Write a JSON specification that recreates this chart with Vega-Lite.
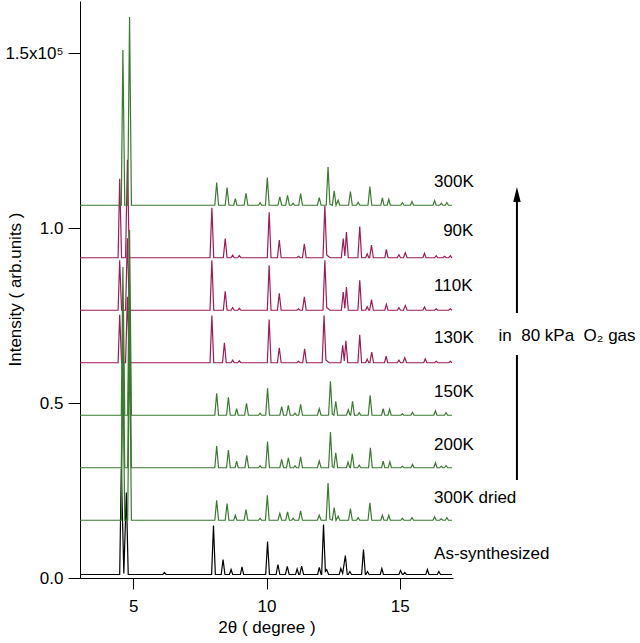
{
  "$schema": "https://vega.github.io/schema/vega-lite/v6.json",
  "width": 373,
  "height": 577,
  "autosize": "none",
  "padding": {"left": 80, "top": 1, "right": 187, "bottom": 65},
  "background": "white",
  "config": {
    "view": {"stroke": null},
    "font": "Liberation Sans",
    "axis": {
      "domainColor": "#000", "tickColor": "#000", "labelColor": "#000", "titleColor": "#000",
      "labelFont": "Liberation Sans", "titleFont": "Liberation Sans",
      "labelFontSize": 17, "titleFontSize": 17, "titleFontWeight": "normal",
      "grid": false, "domainWidth": 1, "tickWidth": 1
    }
  },
  "datasets": {
    "magenta": [
      {"s":"130K","x":3,"y":61500},{"s":"130K","x":4.43,"y":61500},{"s":"130K","x":4.49,"y":75230},{"s":"130K","x":4.56,"y":61500},{"s":"130K","x":4.71,"y":61500},{"s":"130K","x":4.78,"y":80380},{"s":"130K","x":4.85,"y":61500},{"s":"130K","x":7.88,"y":61500},{"s":"130K","x":7.95,"y":75030},{"s":"130K","x":8.02,"y":61500},{"s":"130K","x":8.35,"y":61500},{"s":"130K","x":8.42,"y":67220},{"s":"130K","x":8.49,"y":61500},{"s":"130K","x":8.67,"y":61500},{"s":"130K","x":8.73,"y":62220},{"s":"130K","x":8.79,"y":61500},{"s":"130K","x":8.92,"y":61500},{"s":"130K","x":8.98,"y":62070},{"s":"130K","x":9.04,"y":61500},{"s":"130K","x":10.03,"y":61500},{"s":"130K","x":10.1,"y":73880},{"s":"130K","x":10.17,"y":61500},{"s":"130K","x":10.41,"y":61500},{"s":"130K","x":10.48,"y":65790},{"s":"130K","x":10.55,"y":61500},{"s":"130K","x":11.14,"y":61500},{"s":"130K","x":11.2,"y":61930},{"s":"130K","x":11.26,"y":61500},{"s":"130K","x":11.36,"y":61500},{"s":"130K","x":11.43,"y":65500},{"s":"130K","x":11.5,"y":61500},{"s":"130K","x":12.09,"y":61500},{"s":"130K","x":12.16,"y":75030},{"s":"130K","x":12.23,"y":62300},{"s":"130K","x":12.35,"y":61500},{"s":"130K","x":12.79,"y":61500},{"s":"130K","x":12.86,"y":66450},{"s":"130K","x":12.92,"y":62000},{"s":"130K","x":12.98,"y":67790},{"s":"130K","x":13.05,"y":61500},{"s":"130K","x":13.43,"y":61500},{"s":"130K","x":13.5,"y":69510},{"s":"130K","x":13.57,"y":61500},{"s":"130K","x":13.72,"y":61500},{"s":"130K","x":13.78,"y":62500},{"s":"130K","x":13.84,"y":61500},{"s":"130K","x":13.88,"y":61500},{"s":"130K","x":13.95,"y":64560},{"s":"130K","x":14.02,"y":61500},{"s":"130K","x":14.43,"y":61500},{"s":"130K","x":14.49,"y":63360},{"s":"130K","x":14.55,"y":61500},{"s":"130K","x":14.91,"y":61500},{"s":"130K","x":14.97,"y":62220},{"s":"130K","x":15.03,"y":61500},{"s":"130K","x":15.12,"y":61500},{"s":"130K","x":15.19,"y":62930},{"s":"130K","x":15.26,"y":61500},{"s":"130K","x":15.9,"y":61500},{"s":"130K","x":15.96,"y":62640},{"s":"130K","x":16.02,"y":61500},{"s":"130K","x":16.31,"y":61500},{"s":"130K","x":16.37,"y":61930},{"s":"130K","x":16.43,"y":61500},{"s":"130K","x":16.84,"y":61500},{"s":"130K","x":16.9,"y":61930},{"s":"130K","x":16.96,"y":61500},

      {"s":"110K","x":3,"y":76500},{"s":"110K","x":4.43,"y":76500},{"s":"110K","x":4.49,"y":90800},{"s":"110K","x":4.56,"y":76500},{"s":"110K","x":4.71,"y":76500},{"s":"110K","x":4.78,"y":97090},{"s":"110K","x":4.85,"y":76500},{"s":"110K","x":7.88,"y":76500},{"s":"110K","x":7.95,"y":90800},{"s":"110K","x":8.02,"y":76500},{"s":"110K","x":8.38,"y":76500},{"s":"110K","x":8.45,"y":81930},{"s":"110K","x":8.52,"y":76500},{"s":"110K","x":8.67,"y":76500},{"s":"110K","x":8.73,"y":77220},{"s":"110K","x":8.79,"y":76500},{"s":"110K","x":8.92,"y":76500},{"s":"110K","x":8.98,"y":77070},{"s":"110K","x":9.04,"y":76500},{"s":"110K","x":10.03,"y":76500},{"s":"110K","x":10.1,"y":89370},{"s":"110K","x":10.17,"y":76500},{"s":"110K","x":10.41,"y":76500},{"s":"110K","x":10.48,"y":81360},{"s":"110K","x":10.55,"y":76500},{"s":"110K","x":11.14,"y":76500},{"s":"110K","x":11.2,"y":76930},{"s":"110K","x":11.26,"y":76500},{"s":"110K","x":11.35,"y":76500},{"s":"110K","x":11.42,"y":80300},{"s":"110K","x":11.49,"y":76500},{"s":"110K","x":12.12,"y":76500},{"s":"110K","x":12.19,"y":90800},{"s":"110K","x":12.26,"y":77300},{"s":"110K","x":12.38,"y":76500},{"s":"110K","x":12.81,"y":76500},{"s":"110K","x":12.88,"y":81730},{"s":"110K","x":12.94,"y":77000},{"s":"110K","x":13.0,"y":83160},{"s":"110K","x":13.07,"y":76500},{"s":"110K","x":13.43,"y":76500},{"s":"110K","x":13.5,"y":85080},{"s":"110K","x":13.57,"y":76500},{"s":"110K","x":13.72,"y":76500},{"s":"110K","x":13.78,"y":77500},{"s":"110K","x":13.84,"y":76500},{"s":"110K","x":13.87,"y":76500},{"s":"110K","x":13.94,"y":79560},{"s":"110K","x":14.01,"y":76500},{"s":"110K","x":14.44,"y":76500},{"s":"110K","x":14.5,"y":78220},{"s":"110K","x":14.56,"y":76500},{"s":"110K","x":14.91,"y":76500},{"s":"110K","x":14.97,"y":77220},{"s":"110K","x":15.03,"y":76500},{"s":"110K","x":15.14,"y":76500},{"s":"110K","x":15.21,"y":77840},{"s":"110K","x":15.28,"y":76500},{"s":"110K","x":15.87,"y":76500},{"s":"110K","x":15.93,"y":77440},{"s":"110K","x":15.99,"y":76500},{"s":"110K","x":16.31,"y":76500},{"s":"110K","x":16.37,"y":76930},{"s":"110K","x":16.43,"y":76500},{"s":"110K","x":16.84,"y":76500},{"s":"110K","x":16.9,"y":76930},{"s":"110K","x":16.96,"y":76500},

      {"s":"90K","x":3,"y":91500},{"s":"90K","x":4.43,"y":91500},{"s":"90K","x":4.49,"y":114090},{"s":"90K","x":4.56,"y":91500},{"s":"90K","x":4.71,"y":91500},{"s":"90K","x":4.78,"y":119530},{"s":"90K","x":4.85,"y":91500},{"s":"90K","x":7.88,"y":91500},{"s":"90K","x":7.95,"y":105800},{"s":"90K","x":8.02,"y":91500},{"s":"90K","x":8.38,"y":91500},{"s":"90K","x":8.45,"y":97020},{"s":"90K","x":8.52,"y":91500},{"s":"90K","x":8.67,"y":91500},{"s":"90K","x":8.73,"y":92270},{"s":"90K","x":8.79,"y":91500},{"s":"90K","x":8.92,"y":91500},{"s":"90K","x":8.98,"y":92160},{"s":"90K","x":9.04,"y":91500},{"s":"90K","x":10.03,"y":91500},{"s":"90K","x":10.1,"y":104460},{"s":"90K","x":10.17,"y":91500},{"s":"90K","x":10.41,"y":91500},{"s":"90K","x":10.48,"y":96560},{"s":"90K","x":10.55,"y":91500},{"s":"90K","x":11.14,"y":91500},{"s":"90K","x":11.2,"y":91930},{"s":"90K","x":11.26,"y":91500},{"s":"90K","x":11.35,"y":91500},{"s":"90K","x":11.42,"y":95500},{"s":"90K","x":11.49,"y":91500},{"s":"90K","x":12.12,"y":91500},{"s":"90K","x":12.19,"y":106370},{"s":"90K","x":12.26,"y":92300},{"s":"90K","x":12.38,"y":91500},{"s":"90K","x":12.81,"y":91500},{"s":"90K","x":12.88,"y":97020},{"s":"90K","x":12.94,"y":92000},{"s":"90K","x":13.0,"y":98850},{"s":"90K","x":13.07,"y":91500},{"s":"90K","x":13.43,"y":91500},{"s":"90K","x":13.5,"y":100450},{"s":"90K","x":13.57,"y":91500},{"s":"90K","x":13.72,"y":91500},{"s":"90K","x":13.78,"y":92640},{"s":"90K","x":13.84,"y":91500},{"s":"90K","x":13.87,"y":91500},{"s":"90K","x":13.94,"y":95130},{"s":"90K","x":14.01,"y":91500},{"s":"90K","x":14.44,"y":91500},{"s":"90K","x":14.5,"y":93870},{"s":"90K","x":14.56,"y":91500},{"s":"90K","x":14.91,"y":91500},{"s":"90K","x":14.97,"y":92360},{"s":"90K","x":15.03,"y":91500},{"s":"90K","x":15.14,"y":91500},{"s":"90K","x":15.21,"y":92930},{"s":"90K","x":15.28,"y":91500},{"s":"90K","x":15.87,"y":91500},{"s":"90K","x":15.93,"y":92790},{"s":"90K","x":15.99,"y":91500},{"s":"90K","x":16.31,"y":91500},{"s":"90K","x":16.37,"y":92070},{"s":"90K","x":16.43,"y":91500},{"s":"90K","x":16.62,"y":91500},{"s":"90K","x":16.68,"y":91930},{"s":"90K","x":16.74,"y":91500},{"s":"90K","x":16.84,"y":91500},{"s":"90K","x":16.9,"y":92070},{"s":"90K","x":16.96,"y":91500}
    ],
    "others": [
      {"s":"As-synthesized","x":3,"y":1000},{"s":"As-synthesized","x":4.49,"y":1000},{"s":"As-synthesized","x":4.55,"y":31300},{"s":"As-synthesized","x":4.645,"y":1300},{"s":"As-synthesized","x":4.74,"y":24450},{"s":"As-synthesized","x":4.81,"y":1000},{"s":"As-synthesized","x":6.11,"y":1000},{"s":"As-synthesized","x":6.17,"y":1570},{"s":"As-synthesized","x":6.23,"y":1000},{"s":"As-synthesized","x":7.94,"y":1000},{"s":"As-synthesized","x":8.01,"y":15000},{"s":"As-synthesized","x":8.08,"y":1000},{"s":"As-synthesized","x":8.3,"y":1000},{"s":"As-synthesized","x":8.37,"y":5290},{"s":"As-synthesized","x":8.44,"y":1000},{"s":"As-synthesized","x":8.61,"y":1000},{"s":"As-synthesized","x":8.67,"y":2430},{"s":"As-synthesized","x":8.73,"y":1000},{"s":"As-synthesized","x":9.02,"y":1000},{"s":"As-synthesized","x":9.08,"y":3150},{"s":"As-synthesized","x":9.14,"y":1000},{"s":"As-synthesized","x":9.97,"y":1000},{"s":"As-synthesized","x":10.04,"y":10440},{"s":"As-synthesized","x":10.11,"y":1000},{"s":"As-synthesized","x":10.36,"y":1000},{"s":"As-synthesized","x":10.43,"y":3860},{"s":"As-synthesized","x":10.5,"y":1000},{"s":"As-synthesized","x":10.71,"y":1000},{"s":"As-synthesized","x":10.78,"y":3290},{"s":"As-synthesized","x":10.85,"y":1000},{"s":"As-synthesized","x":11.09,"y":1000},{"s":"As-synthesized","x":11.15,"y":2570},{"s":"As-synthesized","x":11.21,"y":1000},{"s":"As-synthesized","x":11.25,"y":1000},{"s":"As-synthesized","x":11.32,"y":3370},{"s":"As-synthesized","x":11.39,"y":1000},{"s":"As-synthesized","x":11.92,"y":1000},{"s":"As-synthesized","x":11.98,"y":3000},{"s":"As-synthesized","x":12.05,"y":1000},{"s":"As-synthesized","x":12.07,"y":1000},{"s":"As-synthesized","x":12.14,"y":15300},{"s":"As-synthesized","x":12.21,"y":1900},{"s":"As-synthesized","x":12.26,"y":2400},{"s":"As-synthesized","x":12.33,"y":1000},{"s":"As-synthesized","x":12.73,"y":1000},{"s":"As-synthesized","x":12.79,"y":2720},{"s":"As-synthesized","x":12.86,"y":1300},{"s":"As-synthesized","x":12.96,"y":6430},{"s":"As-synthesized","x":13.03,"y":1000},{"s":"As-synthesized","x":13.07,"y":1000},{"s":"As-synthesized","x":13.13,"y":1860},{"s":"As-synthesized","x":13.19,"y":1000},{"s":"As-synthesized","x":13.57,"y":1000},{"s":"As-synthesized","x":13.64,"y":8150},{"s":"As-synthesized","x":13.71,"y":1000},{"s":"As-synthesized","x":13.73,"y":1000},{"s":"As-synthesized","x":13.79,"y":1860},{"s":"As-synthesized","x":13.85,"y":1000},{"s":"As-synthesized","x":14.27,"y":1000},{"s":"As-synthesized","x":14.33,"y":2720},{"s":"As-synthesized","x":14.39,"y":1000},{"s":"As-synthesized","x":14.97,"y":1000},{"s":"As-synthesized","x":15.03,"y":2140},{"s":"As-synthesized","x":15.1,"y":1000},{"s":"As-synthesized","x":15.13,"y":1000},{"s":"As-synthesized","x":15.19,"y":1570},{"s":"As-synthesized","x":15.25,"y":1000},{"s":"As-synthesized","x":15.98,"y":1000},{"s":"As-synthesized","x":16.04,"y":2430},{"s":"As-synthesized","x":16.1,"y":1000},{"s":"As-synthesized","x":16.41,"y":1000},{"s":"As-synthesized","x":16.47,"y":1860},{"s":"As-synthesized","x":16.53,"y":1000},{"s":"As-synthesized","x":16.96,"y":1000},

      {"s":"300K dried","x":3,"y":16500},{"s":"300K dried","x":4.55,"y":16500},{"s":"300K dried","x":4.61,"y":59400},{"s":"300K dried","x":4.68,"y":16500},{"s":"300K dried","x":4.79,"y":16500},{"s":"300K dried","x":4.86,"y":69410},{"s":"300K dried","x":4.93,"y":16500},{"s":"300K dried","x":8.06,"y":16500},{"s":"300K dried","x":8.13,"y":22220},{"s":"300K dried","x":8.2,"y":16500},{"s":"300K dried","x":8.45,"y":16500},{"s":"300K dried","x":8.52,"y":21280},{"s":"300K dried","x":8.59,"y":16500},{"s":"300K dried","x":8.77,"y":16500},{"s":"300K dried","x":8.83,"y":17930},{"s":"300K dried","x":8.89,"y":16500},{"s":"300K dried","x":9.16,"y":16500},{"s":"300K dried","x":9.23,"y":19560},{"s":"300K dried","x":9.3,"y":16500},{"s":"300K dried","x":9.7,"y":16500},{"s":"300K dried","x":9.76,"y":17070},{"s":"300K dried","x":9.82,"y":16500},{"s":"300K dried","x":9.96,"y":16500},{"s":"300K dried","x":10.03,"y":23650},{"s":"300K dried","x":10.1,"y":16500},{"s":"300K dried","x":10.43,"y":16500},{"s":"300K dried","x":10.5,"y":18420},{"s":"300K dried","x":10.57,"y":16500},{"s":"300K dried","x":10.72,"y":16500},{"s":"300K dried","x":10.79,"y":18870},{"s":"300K dried","x":10.86,"y":16500},{"s":"300K dried","x":10.94,"y":16500},{"s":"300K dried","x":11.0,"y":17070},{"s":"300K dried","x":11.06,"y":16500},{"s":"300K dried","x":11.21,"y":16500},{"s":"300K dried","x":11.28,"y":19160},{"s":"300K dried","x":11.35,"y":16500},{"s":"300K dried","x":11.91,"y":16500},{"s":"300K dried","x":11.98,"y":17930},{"s":"300K dried","x":12.05,"y":16500},{"s":"300K dried","x":12.24,"y":16500},{"s":"300K dried","x":12.31,"y":27170},{"s":"300K dried","x":12.38,"y":16800},{"s":"300K dried","x":12.47,"y":16500},{"s":"300K dried","x":12.54,"y":20130},{"s":"300K dried","x":12.61,"y":16500},{"s":"300K dried","x":12.69,"y":17640},{"s":"300K dried","x":12.75,"y":16500},{"s":"300K dried","x":13.08,"y":16500},{"s":"300K dried","x":13.15,"y":19850},{"s":"300K dried","x":13.22,"y":16500},{"s":"300K dried","x":13.38,"y":16500},{"s":"300K dried","x":13.44,"y":17220},{"s":"300K dried","x":13.5,"y":16500},{"s":"300K dried","x":13.81,"y":16500},{"s":"300K dried","x":13.88,"y":21450},{"s":"300K dried","x":13.95,"y":16500},{"s":"300K dried","x":14.29,"y":16500},{"s":"300K dried","x":14.35,"y":17930},{"s":"300K dried","x":14.41,"y":16500},{"s":"300K dried","x":14.53,"y":16500},{"s":"300K dried","x":14.59,"y":17930},{"s":"300K dried","x":14.65,"y":16500},{"s":"300K dried","x":15.04,"y":16500},{"s":"300K dried","x":15.1,"y":17070},{"s":"300K dried","x":15.16,"y":16500},{"s":"300K dried","x":15.4,"y":16500},{"s":"300K dried","x":15.46,"y":17220},{"s":"300K dried","x":15.52,"y":16500},{"s":"300K dried","x":16.25,"y":16500},{"s":"300K dried","x":16.31,"y":17500},{"s":"300K dried","x":16.37,"y":16500},{"s":"300K dried","x":16.5,"y":16500},{"s":"300K dried","x":16.56,"y":16930},{"s":"300K dried","x":16.62,"y":16500},{"s":"300K dried","x":16.71,"y":16500},{"s":"300K dried","x":16.77,"y":17220},{"s":"300K dried","x":16.83,"y":16500},{"s":"300K dried","x":16.96,"y":16500},

      {"s":"200K","x":3,"y":31500},{"s":"200K","x":4.55,"y":31500},{"s":"200K","x":4.61,"y":74400},{"s":"200K","x":4.68,"y":31500},{"s":"200K","x":4.79,"y":31500},{"s":"200K","x":4.86,"y":84410},{"s":"200K","x":4.93,"y":31500},{"s":"200K","x":8.06,"y":31500},{"s":"200K","x":8.13,"y":37710},{"s":"200K","x":8.2,"y":31500},{"s":"200K","x":8.5,"y":31500},{"s":"200K","x":8.57,"y":36560},{"s":"200K","x":8.64,"y":31500},{"s":"200K","x":8.82,"y":31500},{"s":"200K","x":8.88,"y":33420},{"s":"200K","x":8.94,"y":31500},{"s":"200K","x":9.19,"y":31500},{"s":"200K","x":9.26,"y":35020},{"s":"200K","x":9.33,"y":31500},{"s":"200K","x":9.7,"y":31500},{"s":"200K","x":9.76,"y":32070},{"s":"200K","x":9.82,"y":31500},{"s":"200K","x":9.97,"y":31500},{"s":"200K","x":10.04,"y":39020},{"s":"200K","x":10.11,"y":31500},{"s":"200K","x":10.5,"y":31500},{"s":"200K","x":10.57,"y":33870},{"s":"200K","x":10.64,"y":31500},{"s":"200K","x":10.75,"y":31500},{"s":"200K","x":10.82,"y":34360},{"s":"200K","x":10.89,"y":31500},{"s":"200K","x":11.01,"y":31500},{"s":"200K","x":11.07,"y":32070},{"s":"200K","x":11.13,"y":31500},{"s":"200K","x":11.21,"y":31500},{"s":"200K","x":11.28,"y":34650},{"s":"200K","x":11.35,"y":31500},{"s":"200K","x":11.91,"y":31500},{"s":"200K","x":11.98,"y":33420},{"s":"200K","x":12.05,"y":31500},{"s":"200K","x":12.33,"y":31500},{"s":"200K","x":12.4,"y":41710},{"s":"200K","x":12.47,"y":31800},{"s":"200K","x":12.53,"y":31500},{"s":"200K","x":12.6,"y":35790},{"s":"200K","x":12.67,"y":31500},{"s":"200K","x":13.0,"y":31500},{"s":"200K","x":13.06,"y":33130},{"s":"200K","x":13.12,"y":31600},{"s":"200K","x":13.15,"y":31500},{"s":"200K","x":13.22,"y":35500},{"s":"200K","x":13.29,"y":31500},{"s":"200K","x":13.42,"y":31500},{"s":"200K","x":13.48,"y":32220},{"s":"200K","x":13.54,"y":31500},{"s":"200K","x":13.83,"y":31500},{"s":"200K","x":13.9,"y":37220},{"s":"200K","x":13.97,"y":31500},{"s":"200K","x":14.32,"y":31500},{"s":"200K","x":14.38,"y":33420},{"s":"200K","x":14.44,"y":31500},{"s":"200K","x":14.57,"y":31500},{"s":"200K","x":14.63,"y":33220},{"s":"200K","x":14.69,"y":31500},{"s":"200K","x":15.04,"y":31500},{"s":"200K","x":15.1,"y":31930},{"s":"200K","x":15.16,"y":31500},{"s":"200K","x":15.42,"y":31500},{"s":"200K","x":15.48,"y":32440},{"s":"200K","x":15.54,"y":31500},{"s":"200K","x":16.28,"y":31500},{"s":"200K","x":16.34,"y":32930},{"s":"200K","x":16.4,"y":31500},{"s":"200K","x":16.5,"y":31500},{"s":"200K","x":16.56,"y":31930},{"s":"200K","x":16.62,"y":31500},{"s":"200K","x":16.68,"y":31500},{"s":"200K","x":16.74,"y":32160},{"s":"200K","x":16.8,"y":31500},{"s":"200K","x":16.96,"y":31500},

      {"s":"150K","x":3,"y":46500},{"s":"150K","x":4.55,"y":46500},{"s":"150K","x":4.61,"y":88830},{"s":"150K","x":4.68,"y":46500},{"s":"150K","x":4.79,"y":46500},{"s":"150K","x":4.86,"y":99410},{"s":"150K","x":4.93,"y":46500},{"s":"150K","x":8.06,"y":46500},{"s":"150K","x":8.13,"y":52790},{"s":"150K","x":8.2,"y":46500},{"s":"150K","x":8.5,"y":46500},{"s":"150K","x":8.57,"y":51650},{"s":"150K","x":8.64,"y":46500},{"s":"150K","x":8.82,"y":46500},{"s":"150K","x":8.88,"y":48360},{"s":"150K","x":8.94,"y":46500},{"s":"150K","x":9.18,"y":46500},{"s":"150K","x":9.25,"y":49930},{"s":"150K","x":9.32,"y":46500},{"s":"150K","x":9.7,"y":46500},{"s":"150K","x":9.76,"y":47070},{"s":"150K","x":9.82,"y":46500},{"s":"150K","x":9.97,"y":46500},{"s":"150K","x":10.04,"y":54220},{"s":"150K","x":10.11,"y":46500},{"s":"150K","x":10.5,"y":46500},{"s":"150K","x":10.57,"y":48930},{"s":"150K","x":10.64,"y":46500},{"s":"150K","x":10.75,"y":46500},{"s":"150K","x":10.82,"y":49360},{"s":"150K","x":10.89,"y":46500},{"s":"150K","x":11.01,"y":46500},{"s":"150K","x":11.07,"y":47070},{"s":"150K","x":11.13,"y":46500},{"s":"150K","x":11.21,"y":46500},{"s":"150K","x":11.28,"y":49650},{"s":"150K","x":11.35,"y":46500},{"s":"150K","x":11.91,"y":46500},{"s":"150K","x":11.98,"y":48360},{"s":"150K","x":12.05,"y":46500},{"s":"150K","x":12.33,"y":46500},{"s":"150K","x":12.4,"y":56220},{"s":"150K","x":12.47,"y":46800},{"s":"150K","x":12.53,"y":46500},{"s":"150K","x":12.6,"y":50500},{"s":"150K","x":12.67,"y":46500},{"s":"150K","x":13.0,"y":46500},{"s":"150K","x":13.07,"y":48070},{"s":"150K","x":13.13,"y":46600},{"s":"150K","x":13.16,"y":46500},{"s":"150K","x":13.23,"y":50500},{"s":"150K","x":13.3,"y":46500},{"s":"150K","x":13.42,"y":46500},{"s":"150K","x":13.48,"y":47220},{"s":"150K","x":13.54,"y":46500},{"s":"150K","x":13.82,"y":46500},{"s":"150K","x":13.89,"y":52220},{"s":"150K","x":13.96,"y":46500},{"s":"150K","x":14.32,"y":46500},{"s":"150K","x":14.38,"y":48360},{"s":"150K","x":14.44,"y":46500},{"s":"150K","x":14.56,"y":46500},{"s":"150K","x":14.62,"y":48220},{"s":"150K","x":14.68,"y":46500},{"s":"150K","x":15.04,"y":46500},{"s":"150K","x":15.1,"y":46930},{"s":"150K","x":15.16,"y":46500},{"s":"150K","x":15.42,"y":46500},{"s":"150K","x":15.48,"y":47360},{"s":"150K","x":15.54,"y":46500},{"s":"150K","x":16.28,"y":46500},{"s":"150K","x":16.34,"y":47790},{"s":"150K","x":16.4,"y":46500},{"s":"150K","x":16.68,"y":46500},{"s":"150K","x":16.74,"y":47220},{"s":"150K","x":16.8,"y":46500},{"s":"150K","x":16.96,"y":46500},

      {"s":"300K","x":3,"y":106500},{"s":"300K","x":4.55,"y":106500},{"s":"300K","x":4.61,"y":150830},{"s":"300K","x":4.68,"y":106500},{"s":"300K","x":4.79,"y":106500},{"s":"300K","x":4.86,"y":160270},{"s":"300K","x":4.93,"y":106500},{"s":"300K","x":8.06,"y":106500},{"s":"300K","x":8.13,"y":112990},{"s":"300K","x":8.2,"y":106500},{"s":"300K","x":8.45,"y":106500},{"s":"300K","x":8.52,"y":111560},{"s":"300K","x":8.59,"y":106500},{"s":"300K","x":8.77,"y":106500},{"s":"300K","x":8.83,"y":108420},{"s":"300K","x":8.89,"y":106500},{"s":"300K","x":9.16,"y":106500},{"s":"300K","x":9.23,"y":109930},{"s":"300K","x":9.3,"y":106500},{"s":"300K","x":9.7,"y":106500},{"s":"300K","x":9.76,"y":107220},{"s":"300K","x":9.82,"y":106500},{"s":"300K","x":9.96,"y":106500},{"s":"300K","x":10.03,"y":114420},{"s":"300K","x":10.1,"y":106500},{"s":"300K","x":10.43,"y":106500},{"s":"300K","x":10.5,"y":108870},{"s":"300K","x":10.57,"y":106500},{"s":"300K","x":10.72,"y":106500},{"s":"300K","x":10.79,"y":109360},{"s":"300K","x":10.86,"y":106500},{"s":"300K","x":10.94,"y":106500},{"s":"300K","x":11.0,"y":107070},{"s":"300K","x":11.06,"y":106500},{"s":"300K","x":11.21,"y":106500},{"s":"300K","x":11.28,"y":109850},{"s":"300K","x":11.35,"y":106500},{"s":"300K","x":11.91,"y":106500},{"s":"300K","x":11.98,"y":108700},{"s":"300K","x":12.05,"y":106500},{"s":"300K","x":12.24,"y":106500},{"s":"300K","x":12.31,"y":117450},{"s":"300K","x":12.38,"y":106800},{"s":"300K","x":12.47,"y":106500},{"s":"300K","x":12.54,"y":110590},{"s":"300K","x":12.61,"y":106500},{"s":"300K","x":12.69,"y":107930},{"s":"300K","x":12.75,"y":106500},{"s":"300K","x":13.08,"y":106500},{"s":"300K","x":13.15,"y":110420},{"s":"300K","x":13.22,"y":106500},{"s":"300K","x":13.38,"y":106500},{"s":"300K","x":13.44,"y":107360},{"s":"300K","x":13.5,"y":106500},{"s":"300K","x":13.81,"y":106500},{"s":"300K","x":13.88,"y":111850},{"s":"300K","x":13.95,"y":106500},{"s":"300K","x":14.29,"y":106500},{"s":"300K","x":14.35,"y":108590},{"s":"300K","x":14.41,"y":106500},{"s":"300K","x":14.53,"y":106500},{"s":"300K","x":14.59,"y":108220},{"s":"300K","x":14.65,"y":106500},{"s":"300K","x":15.04,"y":106500},{"s":"300K","x":15.1,"y":107270},{"s":"300K","x":15.16,"y":106500},{"s":"300K","x":15.4,"y":106500},{"s":"300K","x":15.46,"y":107560},{"s":"300K","x":15.52,"y":106500},{"s":"300K","x":16.25,"y":106500},{"s":"300K","x":16.31,"y":107840},{"s":"300K","x":16.37,"y":106500},{"s":"300K","x":16.5,"y":106500},{"s":"300K","x":16.56,"y":107070},{"s":"300K","x":16.62,"y":106500},{"s":"300K","x":16.71,"y":106500},{"s":"300K","x":16.77,"y":107270},{"s":"300K","x":16.83,"y":106500},{"s":"300K","x":16.96,"y":106500}
    ],
    "labels": [
      {"t":"300K","x":16.29,"y":113140},
      {"t":"90K","x":16.63,"y":99140},
      {"t":"110K","x":16.29,"y":83400},
      {"t":"130K","x":16.29,"y":68600},
      {"t":"150K","x":16.29,"y":53100},
      {"t":"200K","x":16.29,"y":38000},
      {"t":"300K dried","x":16.29,"y":22860},
      {"t":"As-synthesized","x":16.29,"y":6860},
      {"t":"in\u00a0\u00a080 kPa\u00a0\u00a0O\u2082 gas","x":18.71,"y":69140}
    ],
    "arrow": [
      {"x":19.4,"y":28000,"y2":63700},
      {"x":19.4,"y":75700,"y2":108500}
    ],
    "head": [
      {"x":19.4,"y":109570}
    ]
  },
  "layer": [
    {
      "data": {"name": "magenta"},
      "mark": {"type": "line", "strokeWidth": 1.2, "interpolate": "linear"},
      "encoding": {
        "x": {
          "field": "x", "type": "quantitative",
          "scale": {"domain": [3, 17], "nice": false, "zero": false},
          "axis": {
            "title": "2θ ( degree )", "values": [5, 10, 15], "format": "d",
            "tickSize": 11, "labelPadding": 9, "titleY": 49, "titleBaseline": "middle"
          }
        },
        "y": {
          "field": "y", "type": "quantitative",
          "scale": {"domain": [0, 164860], "nice": false, "zero": true},
          "axis": {
            "title": "Intensity ( arb.units )",
            "values": [0, 50000, 100000, 150000],
            "labelExpr": "datum.value == 150000 ? '1.5x10⁵' : format(datum.value / 100000, '.1f')",
            "tickSize": 12, "labelPadding": 5,
            "titleX": -65, "titleY": 288, "titleBaseline": "middle", "titleAlign": "center"
          }
        },
        "color": {
          "field": "s", "type": "nominal", "legend": null,
          "scale": {
            "domain": ["As-synthesized", "300K dried", "200K", "150K", "130K", "110K", "90K", "300K"],
            "range": ["#000000", "#3a7a30", "#3a7a30", "#3a7a30", "#9c1b58", "#9c1b58", "#9c1b58", "#3a7a30"]
          }
        }
      }
    },
    {
      "data": {"name": "others"},
      "mark": {"type": "line", "strokeWidth": 1.2, "interpolate": "linear"},
      "encoding": {
        "x": {"field": "x", "type": "quantitative"},
        "y": {"field": "y", "type": "quantitative"},
        "color": {"field": "s", "type": "nominal", "legend": null}
      }
    },
    {
      "data": {"name": "labels"},
      "mark": {"type": "text", "align": "left", "baseline": "middle", "fontSize": 17, "font": "Liberation Sans", "color": "#000"},
      "encoding": {
        "x": {"field": "x", "type": "quantitative"},
        "y": {"field": "y", "type": "quantitative"},
        "text": {"field": "t", "type": "nominal"}
      }
    },
    {
      "data": {"name": "arrow"},
      "mark": {"type": "rule", "strokeWidth": 2, "color": "#000"},
      "encoding": {
        "x": {"field": "x", "type": "quantitative"},
        "y": {"field": "y", "type": "quantitative"},
        "y2": {"field": "y2"}
      }
    },
    {
      "data": {"name": "head"},
      "mark": {"type": "point", "shape": "M0,-1L0.5,1L-0.5,1Z", "size": 225, "filled": true, "color": "#000", "opacity": 1, "strokeWidth": 0},
      "encoding": {
        "x": {"field": "x", "type": "quantitative"},
        "y": {"field": "y", "type": "quantitative"}
      }
    }
  ]
}
